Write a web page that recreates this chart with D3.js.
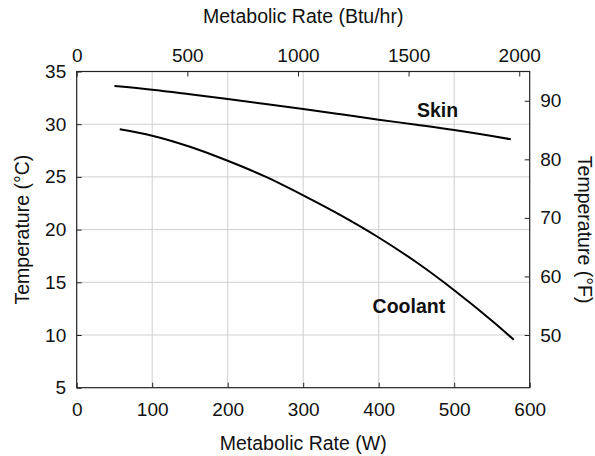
<!DOCTYPE html>
<html>
<head>
<meta charset="utf-8">
<script src="https://cdn.jsdelivr.net/npm/d3@7"></script>
<style>
  body { margin: 0; background: #fff; }
  text { font-family: "Liberation Sans", Arial, sans-serif; fill: #111; }
</style>
</head>
<body>
<div id="chart"></div>
<script>
// values
var skinW = [50, 100, 150, 200, 250, 300, 350, 400, 450, 500, 550, 575];
var skinT = [33.62, 33.27, 32.84, 32.39, 31.92, 31.44, 30.94, 30.43, 29.95, 29.45, 28.88, 28.57];
var coolW = [57, 100, 150, 200, 250, 300, 350, 400, 450, 500, 550, 579];
var coolT = [29.52, 28.91, 27.86, 26.53, 25.02, 23.25, 21.35, 19.25, 16.9, 14.25, 11.35, 9.55];
var wTicks = [0, 100, 200, 300, 400, 500, 600];
var cTicks = [5, 10, 15, 20, 25, 30, 35];
var btuTicks = [0, 500, 1000, 1500, 2000];
var fTicks = [50, 60, 70, 80, 90];

// set the dimensions and margins of the graph
var margin = {top: 71.5, right: 65.3, bottom: 68.3, left: 76.7},
    width = 595 - margin.left - margin.right,
    height = 456 - margin.top - margin.bottom;

var svg = d3.select("#chart")
  .append("svg")
    .attr("width", 595)
    .attr("height", 456)
  .append("g")
    .attr("transform", "translate(" + margin.left + "," + margin.top + ")");

var x = d3.scaleLinear().domain([0, 600]).range([0, width]);
var y = d3.scaleLinear().domain([5, 35]).range([height, 0]);
// secondary units
var xTop = d3.scaleLinear().domain([0, 600 * 3.41214]).range([0, width]);
var yRight = d3.scaleLinear().domain([5 * 9 / 5 + 32, 35 * 9 / 5 + 32]).range([height, 0]);

// grid
svg.append("g")
  .selectAll("line")
  .data(wTicks.slice(1, -1))
  .enter().append("line")
    .attr("x1", function(d) { return x(d); })
    .attr("x2", function(d) { return x(d); })
    .attr("y1", 0).attr("y2", height)
    .attr("stroke", "#cfcfcf").attr("stroke-width", 1);
svg.append("g")
  .selectAll("line")
  .data(cTicks.slice(1, -1))
  .enter().append("line")
    .attr("y1", function(d) { return y(d); })
    .attr("y2", function(d) { return y(d); })
    .attr("x1", 0).attr("x2", width)
    .attr("stroke", "#cfcfcf").attr("stroke-width", 1);

// axes
function styleAxis(g) {
  g.select(".domain").remove();
  g.selectAll(".tick line").attr("stroke", "#222");
  g.selectAll("text").style("font-size", "19px").attr("fill", "#111");
}
var fmt = d3.format("d");
svg.append("g")
  .attr("transform", "translate(0," + height + ")")
  .call(d3.axisBottom(x).tickValues(wTicks).tickFormat(fmt).tickSizeInner(-5).tickSizeOuter(0).tickPadding(15))
  .call(styleAxis);
svg.append("g")
  .call(d3.axisLeft(y).tickValues(cTicks).tickFormat(fmt).tickSizeInner(-5).tickSizeOuter(0).tickPadding(10.5))
  .call(styleAxis);
svg.append("g")
  .call(d3.axisTop(xTop).tickValues(btuTicks).tickFormat(fmt).tickSizeInner(-5).tickSizeOuter(0).tickPadding(10))
  .call(styleAxis);
svg.append("g")
  .attr("transform", "translate(" + width + ",0)")
  .call(d3.axisRight(yRight).tickValues(fTicks).tickFormat(fmt).tickSizeInner(-5).tickSizeOuter(0).tickPadding(10.5))
  .call(styleAxis);

// frame
svg.append("rect")
  .attr("x", 0).attr("y", 0)
  .attr("width", width).attr("height", height)
  .attr("fill", "none").attr("stroke", "#222").attr("stroke-width", 1.2);

// curves
var line = d3.line()
  .x(function(d) { return x(d[0]); })
  .y(function(d) { return y(d[1]); })
  .curve(d3.curveMonotoneX);

svg.append("path")
  .datum(d3.zip(skinW, skinT))
  .attr("d", line)
  .attr("fill", "none").attr("stroke", "#000").attr("stroke-width", 2);
svg.append("path")
  .datum(d3.zip(coolW, coolT))
  .attr("d", line)
  .attr("fill", "none").attr("stroke", "#000").attr("stroke-width", 2);

// curve labels
svg.append("text")
  .attr("x", x(478)).attr("y", y(30.7))
  .attr("text-anchor", "middle")
  .style("font-size", "19.5px").style("font-weight", "bold")
  .text("Skin");
svg.append("text")
  .attr("x", x(440)).attr("y", y(12.1))
  .attr("text-anchor", "middle")
  .style("font-size", "19.5px").style("font-weight", "bold")
  .text("Coolant");

// axis titles
svg.append("text")
  .attr("x", width / 2).attr("y", height + 62.5)
  .attr("text-anchor", "middle")
  .style("font-size", "19.5px")
  .text("Metabolic Rate (W)");
svg.append("text")
  .attr("x", width / 2).attr("y", -48.2)
  .attr("text-anchor", "middle")
  .style("font-size", "19.5px")
  .text("Metabolic Rate (Btu/hr)");
svg.append("text")
  .attr("transform", "translate(" + (29.5 - margin.left) + "," + (height / 2) + ") rotate(-90)")
  .attr("text-anchor", "middle")
  .style("font-size", "19.5px")
  .text("Temperature (°C)");
svg.append("text")
  .attr("transform", "translate(" + (577.5 - margin.left) + "," + (height / 2) + ") rotate(90)")
  .attr("text-anchor", "middle")
  .style("font-size", "19.5px")
  .text("Temperature (°F)");
</script>
</body>
</html>
